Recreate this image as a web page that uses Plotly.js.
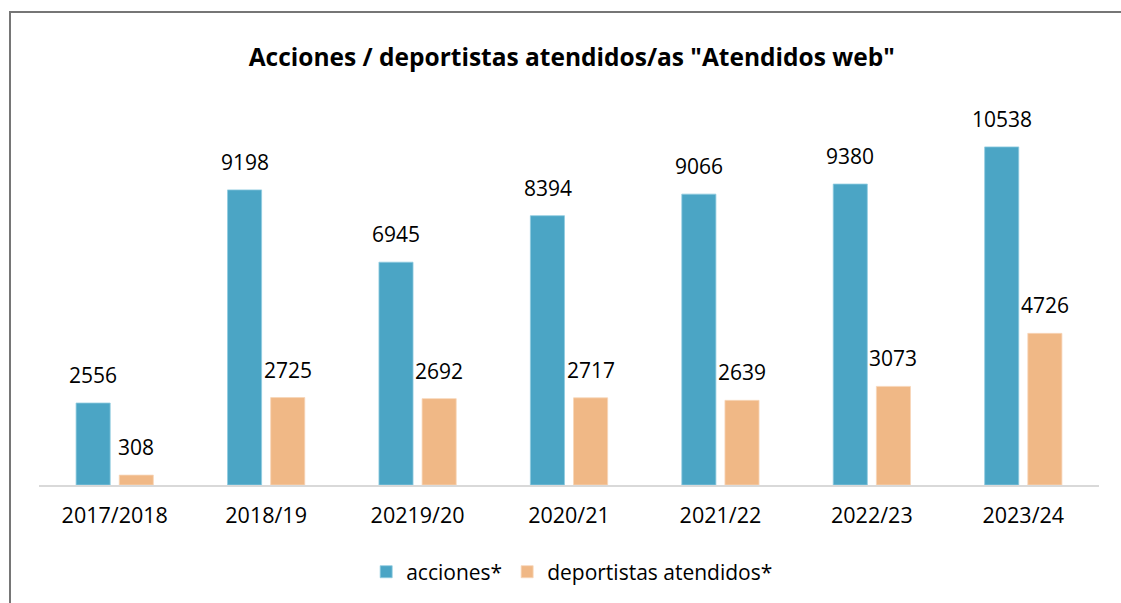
<!DOCTYPE html>
<html>
<head>
<meta charset="utf-8">
<script src="https://cdn.plot.ly/plotly-3.0.1.min.js"></script>
<style>
  html, body { margin: 0; padding: 0; background: #ffffff; }
  #frame { position: absolute; left: 9px; top: 11px; width: 1200px; height: 700px;
           border-left: 2px solid #767676; border-top: 2px solid #767676; pointer-events: none; z-index: 5; }
  #chart { position: absolute; left: 0; top: 0; width: 1121px; height: 603px; }
</style>
</head>
<body>
<div id="chart"></div>
<div id="frame"></div>
<script>
const categories = ["2017/2018", "2018/19", "20219/20", "2020/21", "2021/22", "2022/23", "2023/24"];
const acciones = [2556, 9198, 6945, 8394, 9066, 9380, 10538];
const deportistas = [308, 2725, 2692, 2717, 2639, 3073, 4726];
const seriesNames = ["acciones*", "deportistas atendidos*"];
const titleText = 'Acciones / deportistas atendidos/as "Atendidos web"';

const FONT = "Open Sans, Noto Sans, sans-serif";
const blue = "#4BA5C5";
const orange = "#F0B886";

const traces = [
  { type: "bar", name: seriesNames[0], x: categories, y: acciones,
    marker: { color: blue, line: { color: "#8fcbe0", width: 0.8 } }, hoverinfo: "x+y" },
  { type: "bar", name: seriesNames[1], x: categories, y: deportistas,
    marker: { color: orange, line: { color: "#f7d5b8", width: 0.8 } }, hoverinfo: "x+y" }
];

const annotations = [];
const shiftPx = 21.5;
categories.forEach((c, i) => {
  annotations.push({ x: c, y: acciones[i], xref: "x", yref: "y", text: String(acciones[i]),
    showarrow: false, xshift: -shiftPx, yshift: 12, yanchor: "bottom",
    font: { family: FONT, size: 21, color: "#000000" } });
  annotations.push({ x: c, y: deportistas[i], xref: "x", yref: "y", text: String(deportistas[i]),
    showarrow: false, xshift: shiftPx, yshift: 12, yanchor: "bottom",
    font: { family: FONT, size: 21, color: "#000000" } });
});

const layout = {
  width: 1121, height: 603,
  paper_bgcolor: "#ffffff", plot_bgcolor: "#ffffff",
  margin: { l: 39, r: 22, t: 100, b: 117 },
  font: { family: FONT, size: 21, color: "#000000" },
  title: { text: "<b>" + titleText + "</b>", x: 0.51, xanchor: "center", y: 0.904, yanchor: "middle",
           font: { family: FONT, size: 24.5, color: "#000000" } },
  barmode: "group",
  bargap: 0.43,
  bargroupgap: 0.21,
  showlegend: true,
  legend: { orientation: "h", x: 0.503, xanchor: "center", y: -0.223, yanchor: "middle",
            font: { family: FONT, size: 21, color: "#000000" }, traceorder: "normal",
            itemwidth: 30 },
  xaxis: { type: "category", showline: true, linecolor: "#d9d9d9", linewidth: 1.5,
           ticks: "", showgrid: false, zeroline: false,
           tickfont: { family: FONT, size: 21.5, color: "#000000" }, ticklabelstandoff: 11 },
  yaxis: { range: [0, 12000], showline: false, showgrid: false, zeroline: false,
           showticklabels: false, ticks: "" },
  annotations: annotations
};

Plotly.newPlot("chart", traces, layout, { displayModeBar: false, staticPlot: true });
</script>
</body>
</html>
